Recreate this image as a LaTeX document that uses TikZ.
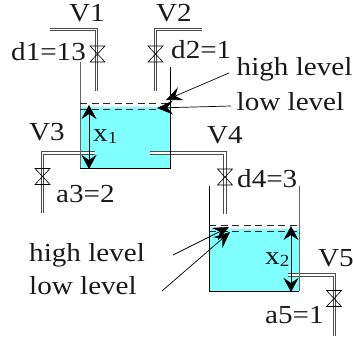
\documentclass[tikz,border=0pt]{standalone}
\usepackage{fontspec}
\setmainfont[FakeStretch=1.12]{Liberation Serif}
\usetikzlibrary{arrows.meta}
\definecolor{water}{RGB}{128,255,255}
\tikzset{
  lab/.style={inner sep=0pt,anchor=base west,font=\fontsize{26}{28}\selectfont,text=black!90},
  pipe/.style={draw=black!70,line width=0.7pt,double=white,double distance=1.9pt},
  wall/.style={draw=black,line width=0.9pt},
  wallg/.style={draw=black!60,line width=1pt},
  lvl/.style={draw=black!85,line width=0.8pt,dash pattern=on 7pt off 4.5pt},
  valve/.style={draw=black,line width=0.6pt,fill=none},
  bigarrow/.style={draw=black,line width=0.8pt,{Stealth[length=14pt,width=15pt,inset=5pt]}-{Stealth[length=14pt,width=15pt,inset=5pt]}},
  ptr/.style={draw=black,line width=0.7pt,-{Stealth[length=16pt,width=14pt,inset=6pt]}}
}
\newcommand{\vlv}[2]{\draw[valve] (#1-7.5,#2-8) -- (#1+7.5,#2-8) -- (#1-7.5,#2+8) -- (#1+7.5,#2+8) -- cycle;}
\newcommand{\subs}[1]{\raisebox{-2pt}{\fontsize{17}{17}\selectfont #1}}
\begin{document}
\begin{tikzpicture}[x=1pt,y=-1pt]
\useasboundingbox (0,0) rectangle (353,338);
% water
\fill[water] (80,107) rectangle (170.5,168);
\fill[water] (209,229) rectangle (299,291);
% pipes
\draw[pipe] (50,29.5) -- (96.5,29.5) -- (96.5,91);
\draw[pipe] (155.5,91) -- (155.5,29.5) -- (202,29.5);
\draw[pipe] (95,153) -- (42.5,153) -- (42.5,213);
\draw[pipe] (150,153) -- (225,153) -- (225,214);
\draw[pipe] (288,275) -- (334.5,275) -- (334.5,336);
% tanks
\draw[wallg] (80,62) -- (80,168);
\draw[wall] (80,168) -- (170.5,168) -- (170.5,67);
\draw[wall] (209,186) -- (209,291) -- (299,291);
\draw[wallg] (299,291) -- (299,186);
% levels
\draw[lvl] (80,103) -- (170,103);
\draw[lvl] (80,109) -- (170,109);
\draw[lvl] (209,225) -- (299,225);
\draw[lvl] (209,231) -- (299,231);
% valves
\vlv{97.5}{54}
\vlv{155.5}{54}
\vlv{42.5}{176.5}
\vlv{225}{177}
\vlv{334}{298.5}
% coordinates
\coordinate (x1t) at (89,105);
\coordinate (x1b) at (89,169);
\coordinate (x2t) at (291,226);
\coordinate (x2b) at (291,292);
\draw[bigarrow] (x1t) -- (x1b);
\draw[bigarrow] (x2t) -- (x2b);
% labels
\node[lab] (v1) at (69,21) {V1};
\node[lab] (v2) at (156,21) {V2};
\node[lab] (d1) at (11,60) {d1=13};
\node[lab] (d2) at (171,58) {d2=1};
\node[lab] (hl1) at (236.5,75) {high level};
\node[lab] (ll1) at (236.5,110) {low level};
\node[lab] (v3) at (29,140) {V3};
\node[lab] (v4) at (207,143) {V4};
\node[lab] (a3) at (56,202) {a3=2};
\node[lab] (d4) at (237,187) {d4=3};
\node[lab] (hl2) at (29,261) {high level};
\node[lab] (ll2) at (29,294) {low level};
\node[lab] (v5) at (318,266) {V5};
\node[lab] (a5) at (265,323) {a5=1};
\node[lab] (x1) at (93,141) {x\subs{1}};
\node[lab] (x2) at (265,264) {x\subs{2}};
% pointers
\coordinate (p1s) at (229,73);
\coordinate (p1e) at (166,100);
\coordinate (p2s) at (231,106);
\coordinate (p2e) at (157,108);
\coordinate (p3s) at (173,255);
\coordinate (p3e) at (229,227);
\coordinate (p4s) at (162,291);
\coordinate (p4e) at (230,232);
\draw[ptr] (p1s) -- (p1e);
\draw[ptr] (p2s) -- (p2e);
\draw[ptr] (p3s) -- (p3e);
\draw[ptr] (p4s) -- (p4e);
\end{tikzpicture}
\end{document}
